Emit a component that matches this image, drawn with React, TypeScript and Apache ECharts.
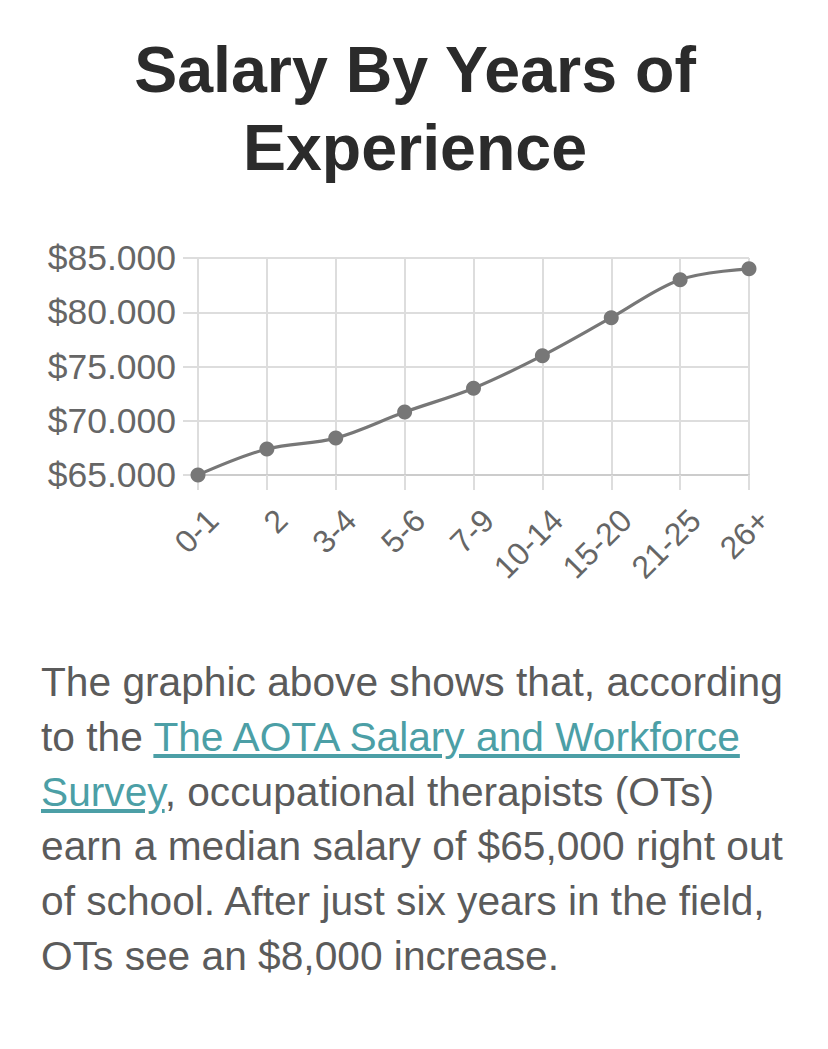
import React, { useEffect, useRef } from "react";
import * as echarts from "echarts";

const titleText = "Salary By Years of\nExperience";
const categories = ["0-1", "2", "3-4", "5-6", "7-9", "10-14", "15-20", "21-25", "26+"];
const salaries = [65000, 67400, 68400, 70800, 73000, 76000, 79500, 83000, 84000];
const yMin = 65000;
const yMax = 85000;
const yStep = 5000;

const FONT = "'Liberation Sans', Arial, Helvetica, sans-serif";

export default function App() {
  const ref = useRef<HTMLDivElement>(null);

  useEffect(() => {
    document.body.style.margin = "0";
    if (!ref.current) return;
    const chart = echarts.init(ref.current, null, { renderer: "svg" });
    chart.setOption({
      animation: false,
      backgroundColor: "#ffffff",
      title: {
        text: titleText,
        left: 410,
        top: 26,
        textAlign: "center",
        textStyle: {
          fontFamily: FONT,
          fontSize: 64.5,
          fontWeight: "bold",
          color: "#2b2b2b",
          lineHeight: 78,
        },
      },
      grid: { left: 198, top: 258, width: 551, height: 217, containLabel: false },
      xAxis: {
        type: "category",
        data: categories,
        boundaryGap: false,
        axisLine: { show: true, lineStyle: { color: "#cccccc", width: 2 } },
        axisTick: { show: true, length: 15, alignWithLabel: true, lineStyle: { color: "#dddddd", width: 2 } },
        splitLine: { show: true, lineStyle: { color: "#dddddd", width: 2 } },
        axisLabel: {
          rotate: 45,
          margin: 25,
          verticalAlign: "top",
          padding: [5, 0, 0, 0],
          fontFamily: FONT,
          fontSize: 32,
          color: "#666666",
          interval: 0,
        },
      },
      yAxis: {
        type: "value",
        min: yMin,
        max: yMax,
        interval: yStep,
        axisLine: { show: true, lineStyle: { color: "#dddddd", width: 2 } },
        axisTick: { show: true, length: 15, lineStyle: { color: "#dddddd", width: 2 } },
        splitLine: { show: true, lineStyle: { color: "#dddddd", width: 2 } },
        axisLabel: {
          margin: 22,
          fontFamily: FONT,
          fontSize: 35.5,
          color: "#666666",
          formatter: (v: number) => "$" + Math.round(v / 1000) + ".000",
        },
      },
      series: [
        {
          type: "line",
          data: salaries,
          smooth: 0.35,
          symbol: "circle",
          symbolSize: 15,
          itemStyle: { color: "#777777" },
          lineStyle: { color: "#777777", width: 3.2 },
        },
      ],
    });
    return () => chart.dispose();
  }, []);

  return (
    <div style={{ position: "absolute", left: 0, top: 0, width: 828, height: 1049, background: "#fff" }}>
      <div ref={ref} style={{ position: "absolute", left: 0, top: 0, width: 828, height: 630 }} />
      <div
        style={{
          position: "absolute",
          left: 41,
          top: 655,
          width: 786,
          fontFamily: FONT,
          fontSize: 40.7,
          lineHeight: "54.8px",
          color: "#5b5b5b",
          whiteSpace: "nowrap",
        }}
      >
        The graphic above shows that, according
        <br />
        to the{" "}
        <a href="#" style={{ color: "#4c9fa6", textDecoration: "underline" }}>
          The AOTA Salary and Workforce
          <br />
          Survey
        </a>
        , occupational therapists (OTs)
        <br />
        earn a median salary of $65,000 right out
        <br />
        of school. After just six years in the field,
        <br />
        OTs see an $8,000 increase.
      </div>
    </div>
  );
}
